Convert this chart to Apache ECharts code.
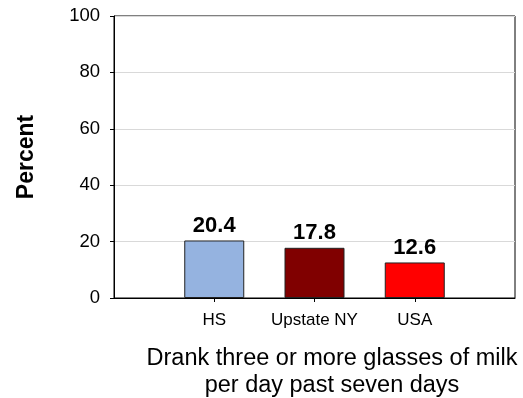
<!DOCTYPE html>
<html><head><meta charset="utf-8">
<script src="https://cdn.jsdelivr.net/npm/echarts@6/dist/echarts.min.js"></script>
<style>html,body{margin:0;padding:0;background:#fff}#c{width:523px;height:398px}</style>
</head><body><div id="c"></div>
<script>
const categories = ['HS', 'Upstate NY', 'USA'];
const values = [20.4, 17.8, 12.6];
const barColors = ['#95B3E0', '#800000', '#FF0000'];
const yTicks = [0, 20, 40, 60, 80, 100];

const cats = [''].concat(categories, ['']);
const data = [null].concat(values.map((v, i) => ({value: v, itemStyle: {color: barColors[i]}})), [null]);

const chart = echarts.init(document.getElementById('c'), null, {renderer: 'canvas'});
chart.setOption({
  animation: false,
  backgroundColor: '#fff',
  textStyle: {fontFamily: 'Liberation Sans, Arial, sans-serif'},
  grid: {left: 114, right: 8, top: 16, bottom: 100, show: true, borderColor: '#000', borderWidth: 1,
    containLabel: false, outerBoundsMode: 'none'},
  xAxis: {
    type: 'category', data: cats, boundaryGap: false,
    axisLine: {lineStyle: {color: '#000', width: 1}},
    axisTick: {show: true, length: 4, inside: false, lineStyle: {color: '#000'},
      interval: (i) => i > 0 && i < cats.length - 1},
    axisLabel: {interval: 0, color: '#000', fontSize: 17, margin: 14, fontFamily: 'Liberation Sans'},
    splitLine: {show: false}
  },
  yAxis: {
    type: 'value', min: yTicks[0], max: yTicks[yTicks.length - 1], interval: 20,
    name: 'Percent', nameLocation: 'middle', nameRotate: 90, nameGap: 76,
    nameTextStyle: {fontSize: 23, fontWeight: 'bold', color: '#000', fontFamily: 'Liberation Sans'},
    axisLine: {show: true, lineStyle: {color: '#000'}},
    axisTick: {show: true, length: 4, lineStyle: {color: '#000'}},
    axisLabel: {color: '#000', fontSize: 18.5, margin: 14, fontFamily: 'Liberation Sans'},
    splitLine: {show: true, lineStyle: {color: '#d9d9d9', width: 1}}
  },
  series: [{
    type: 'bar', data: data, barWidth: 60,
    itemStyle: {borderColor: '#222', borderWidth: 1},
    label: {show: true, position: 'top', distance: 4, color: '#000', fontSize: 22, fontWeight: 'bold',
      fontFamily: 'Liberation Sans', formatter: (p) => p.value.toFixed(1)}
  }],
  graphic: [{
    type: 'text', x: 332, y: 345,
    style: {text: 'Drank three or more glasses of milk\nper day past seven days', textAlign: 'center',
      textVerticalAlign: 'top', fontSize: 23.5, lineHeight: 27, fill: '#000', fontFamily: 'Liberation Sans'}
  }]
});
</script></body></html>
